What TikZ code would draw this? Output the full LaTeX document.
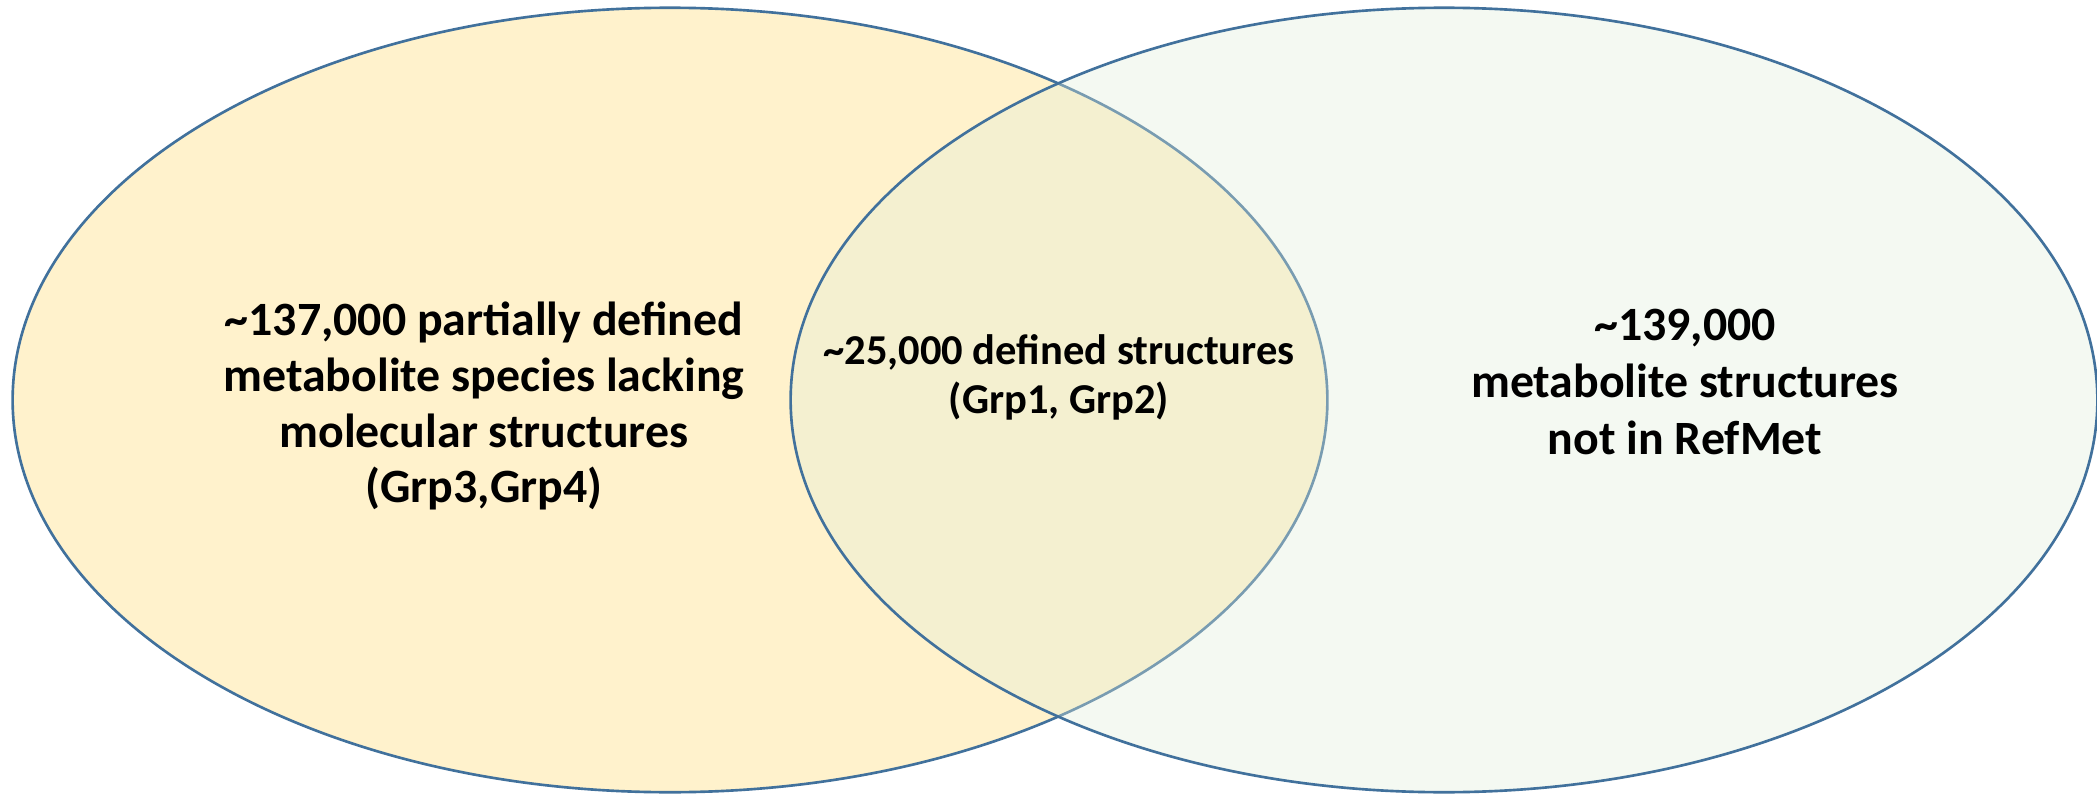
\documentclass[tikz,border=0pt]{standalone}
\usepackage{fontspec}
\setmainfont{Carlito}
\definecolor{edge}{HTML}{41719C}
\definecolor{leftfill}{HTML}{FFF2CC}
\definecolor{rightfill}{HTML}{E2EFDA}
\tikzset{
  setedge/.style={draw=edge, line width=0.75pt},
  bigtext/.style={align=center, inner sep=0pt, font=\bfseries\fontsize{13.6pt}{15.9pt}\selectfont},
  bigtextr/.style={align=center, inner sep=0pt, font=\bfseries\fontsize{13.6pt}{16.3pt}\selectfont},
  midtext/.style={align=center, inner sep=0pt, font=\bfseries\fontsize{12.1pt}{13.9pt}\selectfont},
}
\begin{document}
\begin{tikzpicture}[x=0.01cm, y=-0.01cm]
\useasboundingbox (0,0) rectangle (2097,794);
\fill[white] (0,0) rectangle (2097,794);
\draw[setedge, fill=leftfill] (670,400) ellipse [x radius=6.57cm, y radius=3.92cm];
\fill[rightfill, fill opacity=0.35] (1444,400) ellipse [x radius=6.53cm, y radius=3.92cm];
\draw[setedge] (1444,400) ellipse [x radius=6.53cm, y radius=3.92cm];
\node[bigtext] (lefttext) at (484,406) {\textasciitilde137,000 partially defined\\metabolite species lacking\\molecular structures\\(Grp3,Grp4)};
\node[midtext] (midtext) at (1059,377) {\textasciitilde25,000 defined structures\\(Grp1, Grp2)};
\node[bigtextr] (righttext) at (1685,382) {\textasciitilde139,000\\metabolite structures\\not in RefMet};
\end{tikzpicture}
\end{document}
